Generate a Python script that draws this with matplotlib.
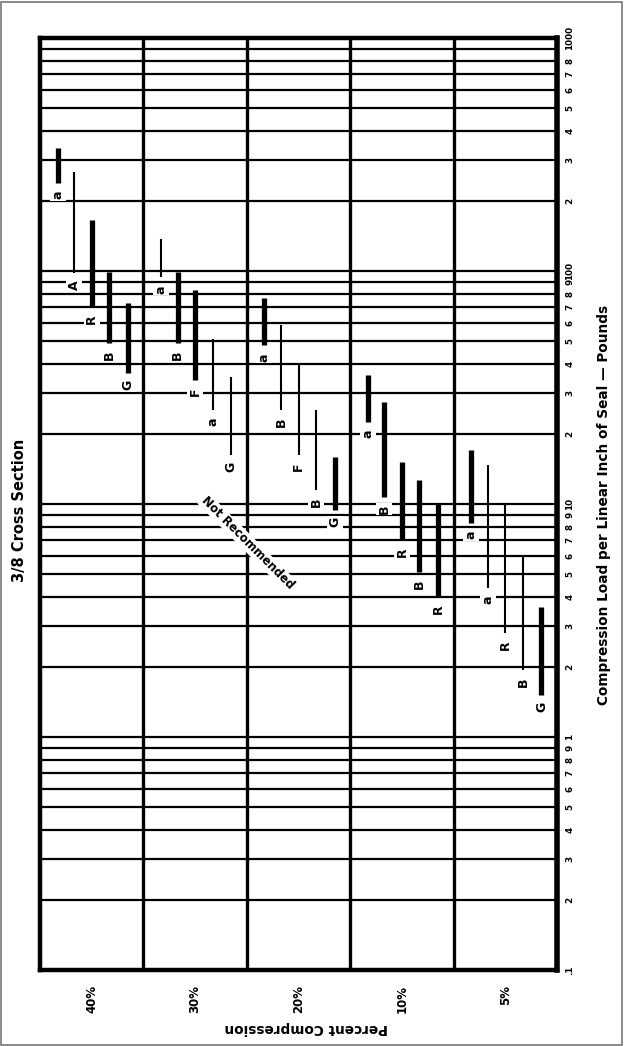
import matplotlib
matplotlib.use("Agg")
import matplotlib.pyplot as plt
from matplotlib.patches import Rectangle

# ---------------- data ----------------
percent_labels = ["40%", "30%", "20%", "10%", "5%"]

# load range (lb per linear inch) for the five grades in every compression column
high_40 = [337, 266, 166, 99, 73]
low_40 = [239, 98, 70, 49, 36.5]
high_30 = [137, 99, 83, 51, 35]
low_30 = [94, 49, 34, 25.3, 16.2]
high_20 = [76.6, 58.6, 40, 25.3, 15.9]
low_20 = [48, 25.3, 16.2, 11.5, 9.4]
high_10 = [35.8, 27.4, 15.1, 12.7, 10.1]
low_10 = [22.5, 10.7, 7.0, 5.1, 4.0]
high_5 = [17.1, 14.7, 10.1, 5.98, 3.61]
low_5 = [8.3, 4.36, 2.79, 1.94, 1.51]

letters_40 = ["a", "A", "R", "B", "G"]
letters_30 = ["a", "B", "F", "a", "G"]
letters_20 = ["a", "B", "F", "B", "G"]
letters_10 = ["a", "B", "R", "B", "R"]
letters_5 = ["a", "a", "R", "B", "G"]

highs = [high_40, high_30, high_20, high_10, high_5]
lows = [low_40, low_30, low_20, low_10, low_5]
letters = [letters_40, letters_30, letters_20, letters_10, letters_5]

# bar weights (style): True = heavy bar
heavy = [[True, False, True, True, True],
         [False, True, True, False, False],
         [True, False, False, False, True],
         [True, True, True, True, True],
         [True, False, False, False, True]]

# ---------------- figure ----------------
W, H = 624, 1046
fig = plt.figure(figsize=(W / 100, H / 100), dpi=100)
fig.patches.append(Rectangle((0.002, 0.001), 0.995, 0.997, transform=fig.transFigure,
                             fill=False, ec="#777777", lw=1.2))

ax = fig.add_axes([40 / W, 76 / H, 517 / W, 932 / H])
ax.set_yscale("log")
ax.set_ylim(0.1, 1000)
ax.set_xlim(0, 5)

# horizontal grid at every log tick
grid_vals, ytick_vals, ylabels = [], [], []
for d in [0.1, 1, 10, 100]:
    for m in range(1, 10):
        v = d * m
        grid_vals.append(v)
        if m == 1:
            ytick_vals.append(v)
            ylabels.append(".1" if d == 0.1 else str(int(d)))
        elif not (d == 100 and m == 9):
            ytick_vals.append(v)
            ylabels.append(str(m))
grid_vals.append(1000)
ytick_vals.append(1000)
ylabels.append("1000")
for v in grid_vals:
    ax.axhline(v, color="black", lw=1.6, zorder=1)
for k in range(1, 5):
    ax.axvline(k, color="black", lw=2.4, zorder=1)

for s in ax.spines.values():
    s.set_linewidth(3.2)
ax.spines["right"].set_linewidth(4)

ax.yaxis.tick_right()
ax.set_yticks(ytick_vals)
ax.set_yticklabels(ylabels)
ax.minorticks_off()
ax.tick_params(axis="y", which="both", length=0, pad=6)
for t in ax.get_yticklabels():
    t.set_rotation(90)
    t.set_fontsize(6.3)
    t.set_fontweight("bold")
    t.set_va("center")

ax.set_xticks([0.5, 1.5, 2.5, 3.5, 4.5])
ax.set_xticklabels(percent_labels, rotation=90, fontsize=8.5, fontweight="bold")
ax.tick_params(axis="x", length=0, pad=11)

# bars
offsets = [0.17, 0.33, 0.50, 0.67, 0.85]
for c in range(5):
    for i in range(5):
        x = c + offsets[i]
        lw = 3.8 if heavy[c][i] else 1.5
        ax.vlines(x, lows[c][i], highs[c][i], color="black", lw=lw, zorder=3,
                  capstyle="butt")
        ax.annotate(letters[c][i], (x, lows[c][i]), xytext=(0, -12),
                    textcoords="offset pixels", ha="center", va="center",
                    rotation=90, fontsize=9, fontweight="bold", zorder=4,
                    bbox=dict(boxstyle="square,pad=0.12", fc="white", ec="none"))

# diagonal annotation
ax.text(0.402, 0.458, "Not Recommended", transform=ax.transAxes, rotation=-45,
        ha="center", va="center", fontsize=8.5, fontweight="bold", zorder=4,
        bbox=dict(boxstyle="square,pad=0.1", fc="white", ec="none"))

# axis titles
fig.text(604 / W, 1 - 505 / H, "Compression Load per Linear Inch of Seal \u2014 Pounds",
         rotation=90, ha="center", va="center", fontsize=9.8, fontweight="bold")
fig.text(20 / W, 1 - 510 / H, "3/8 Cross Section", rotation=90, ha="center",
         va="center", fontsize=10.5, fontweight="bold")
fig.text(306 / W, 1 - 1028 / H, "Percent Compression", rotation=180, ha="center",
         va="center", fontsize=9.8, fontweight="bold")

fig.savefig("out.png", dpi=100)
